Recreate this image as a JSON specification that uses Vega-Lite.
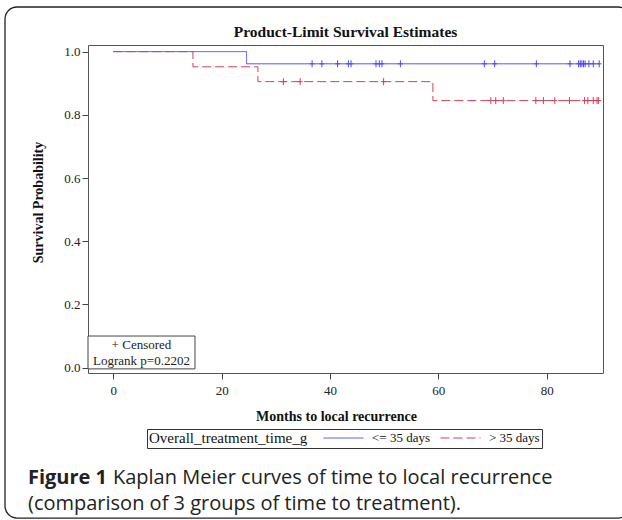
{
  "$schema": "https://vega.github.io/schema/vega-lite/v6.json",
  "width": 515,
  "height": 328,
  "autosize": {"type": "none"},
  "padding": {"left": 88, "top": 45, "right": 19, "bottom": 147},
  "background": "white",
  "config": {
    "view": {"stroke": "#555", "strokeWidth": 1, "fill": "white"},
    "font": "Liberation Serif",
    "axis": {"grid": false, "domain": false, "tickColor": "#444", "tickSize": 6, "labelColor": "#222", "labelFont": "Liberation Serif", "labelFontSize": 13, "titleFont": "Liberation Serif", "titleFontSize": 14, "titleFontWeight": "bold", "titleColor": "#111"},
    "legend": {"orient": "none", "legendX": 59, "legendY": 384, "direction": "horizontal", "titleOrient": "left", "titleAnchor": "middle", "titleBaseline": "middle", "symbolType": "stroke", "symbolSize": 1600, "symbolStrokeWidth": 1, "clipHeight": 14, "labelFont": "Liberation Serif", "labelFontSize": 13, "labelColor": "#111", "titleFont": "Liberation Serif", "titleFontSize": 15, "titleFontWeight": "normal", "titleColor": "#111", "strokeColor": "#333", "fillColor": "white", "padding": 2, "columnPadding": 10, "labelOffset": 8, "titlePadding": 15}
  },
  "datasets": {
    "curves": [
      {"group": "<= 35 days", "month": 0, "surv": 1},
      {"group": "<= 35 days", "month": 24.6, "surv": 0.9615},
      {"group": "<= 35 days", "month": 89.7, "surv": 0.9615},
      {"group": "> 35 days", "month": 0, "surv": 1},
      {"group": "> 35 days", "month": 14.7, "surv": 0.952},
      {"group": "> 35 days", "month": 26.7, "surv": 0.905},
      {"group": "> 35 days", "month": 59.0, "surv": 0.845},
      {"group": "> 35 days", "month": 89.6, "surv": 0.845}
    ],
    "censored": [
      {"group": "<= 35 days", "month": 36.7, "surv": 0.9615},
      {"group": "<= 35 days", "month": 38.5, "surv": 0.9615},
      {"group": "<= 35 days", "month": 41.4, "surv": 0.9615},
      {"group": "<= 35 days", "month": 43.4, "surv": 0.9615},
      {"group": "<= 35 days", "month": 43.9, "surv": 0.9615},
      {"group": "<= 35 days", "month": 48.5, "surv": 0.9615},
      {"group": "<= 35 days", "month": 49.1, "surv": 0.9615},
      {"group": "<= 35 days", "month": 49.6, "surv": 0.9615},
      {"group": "<= 35 days", "month": 53.0, "surv": 0.9615},
      {"group": "<= 35 days", "month": 68.5, "surv": 0.9615},
      {"group": "<= 35 days", "month": 70.4, "surv": 0.9615},
      {"group": "<= 35 days", "month": 78.1, "surv": 0.9615},
      {"group": "<= 35 days", "month": 84.3, "surv": 0.9615},
      {"group": "<= 35 days", "month": 85.9, "surv": 0.9615},
      {"group": "<= 35 days", "month": 86.2, "surv": 0.9615},
      {"group": "<= 35 days", "month": 86.5, "surv": 0.9615},
      {"group": "<= 35 days", "month": 86.8, "surv": 0.9615},
      {"group": "<= 35 days", "month": 87.1, "surv": 0.9615},
      {"group": "<= 35 days", "month": 87.8, "surv": 0.9615},
      {"group": "<= 35 days", "month": 88.6, "surv": 0.9615},
      {"group": "<= 35 days", "month": 89.7, "surv": 0.9615},
      {"group": "> 35 days", "month": 31.4, "surv": 0.905},
      {"group": "> 35 days", "month": 34.5, "surv": 0.905},
      {"group": "> 35 days", "month": 49.9, "surv": 0.905},
      {"group": "> 35 days", "month": 69.7, "surv": 0.845},
      {"group": "> 35 days", "month": 70.6, "surv": 0.845},
      {"group": "> 35 days", "month": 72.0, "surv": 0.845},
      {"group": "> 35 days", "month": 78.0, "surv": 0.845},
      {"group": "> 35 days", "month": 79.4, "surv": 0.845},
      {"group": "> 35 days", "month": 81.5, "surv": 0.845},
      {"group": "> 35 days", "month": 84.2, "surv": 0.845},
      {"group": "> 35 days", "month": 87.0, "surv": 0.845},
      {"group": "> 35 days", "month": 87.6, "surv": 0.845},
      {"group": "> 35 days", "month": 88.6, "surv": 0.845},
      {"group": "> 35 days", "month": 89.3, "surv": 0.845},
      {"group": "> 35 days", "month": 89.6, "surv": 0.845}
    ]
  },
  "layer": [
    {
      "data": {"name": "curves"},
      "mark": {"type": "line", "interpolate": "step-after", "strokeWidth": 1},
      "encoding": {
        "x": {"field": "month", "type": "quantitative", "scale": {"domain": [-4.67, 90.4], "nice": false, "zero": false}, "axis": {"title": "Months to local recurrence", "values": [0, 20, 40, 60, 80], "labelPadding": 5, "titlePadding": 12, "titleX": 248}},
        "y": {"field": "surv", "type": "quantitative", "scale": {"domain": [-0.017, 1.021], "nice": false, "zero": false}, "axis": {"title": "Survival Probability", "values": [0, 0.2, 0.4, 0.6, 0.8, 1.0], "format": ".1f", "labelPadding": 2, "titlePadding": 18, "titleY": 157}},
        "color": {"field": "group", "type": "nominal", "scale": {"domain": ["<= 35 days", "> 35 days"], "range": ["#4a4af5", "#d0405a"]}, "legend": {"title": "Overall_treatment_time_g"}},
        "strokeDash": {"field": "group", "type": "nominal", "scale": {"domain": ["<= 35 days", "> 35 days"], "range": [[1, 0], [9, 4]]}, "legend": {"title": "Overall_treatment_time_g"}},
        "order": {"field": "month"}
      }
    },
    {
      "data": {"name": "censored"},
      "mark": {"type": "point", "shape": "M-0.7,0H0.7M0,-1V1", "filled": false, "size": 49, "strokeWidth": 1, "opacity": 1},
      "encoding": {
        "x": {"field": "month", "type": "quantitative"},
        "y": {"field": "surv", "type": "quantitative"},
        "stroke": {"field": "group", "type": "nominal", "scale": {"domain": ["<= 35 days", "> 35 days"], "range": ["#4a4af5", "#d0405a"]}, "legend": null}
      }
    },
    {
      "data": {"values": [{}]},
      "mark": {"type": "rect", "fill": "white", "stroke": "#444", "strokeWidth": 1},
      "encoding": {
        "x": {"datum": -4.67, "type": "quantitative"},
        "x2": {"datum": 15.08},
        "y": {"datum": 0.1, "type": "quantitative"},
        "y2": {"datum": -0.004}
      }
    },
    {
      "data": {"values": [{}]},
      "mark": {"type": "text", "text": "+ Censored", "font": "Liberation Serif", "fontSize": 13, "color": "#222", "align": "center", "baseline": "middle"},
      "encoding": {
        "x": {"datum": 5.2, "type": "quantitative"},
        "y": {"datum": 0.072, "type": "quantitative"}
      }
    },
    {
      "data": {"values": [{}]},
      "mark": {"type": "text", "text": "Logrank p=0.2202", "font": "Liberation Serif", "fontSize": 13, "color": "#222", "align": "center", "baseline": "middle"},
      "encoding": {
        "x": {"datum": 5.2, "type": "quantitative"},
        "y": {"datum": 0.02, "type": "quantitative"}
      }
    },
    {
      "data": {"values": [{}]},
      "mark": {"type": "text", "text": "Product-Limit Survival Estimates", "font": "Liberation Serif", "fontSize": 15.5, "fontWeight": "bold", "color": "#111", "align": "center", "baseline": "alphabetic"},
      "encoding": {
        "x": {"datum": 42.87, "type": "quantitative"},
        "y": {"datum": 1.0463, "type": "quantitative"}
      }
    },
    {
      "data": {"values": [{}]},
      "mark": {"type": "rect", "fill": null, "fillOpacity": 0, "stroke": "#222", "strokeWidth": 1.3, "cornerRadius": 12},
      "encoding": {
        "x": {"datum": -19.99, "type": "quantitative"},
        "x2": {"datum": 95.4},
        "y": {"datum": 1.1413, "type": "quantitative"},
        "y2": {"datum": -0.476}
      }
    },
    {
      "data": {"values": [{}]},
      "mark": {"type": "text", "text": "Figure 1", "font": "Open Sans", "fontSize": 20, "fontWeight": "bold", "color": "#222", "align": "left", "baseline": "alphabetic"},
      "encoding": {
        "x": {"datum": -15.75, "type": "quantitative"},
        "y": {"datum": -0.368, "type": "quantitative"}
      }
    },
    {
      "data": {"values": [{}]},
      "mark": {"type": "text", "text": "Kaplan Meier curves of time to local recurrence", "font": "Open Sans", "fontSize": 20, "color": "#222", "align": "left", "baseline": "alphabetic"},
      "encoding": {
        "x": {"datum": -0.06, "type": "quantitative"},
        "y": {"datum": -0.368, "type": "quantitative"}
      }
    },
    {
      "data": {"values": [{}]},
      "mark": {"type": "text", "text": "(comparison of 3 groups of time to treatment).", "font": "Open Sans", "fontSize": 20, "color": "#222", "align": "left", "baseline": "alphabetic"},
      "encoding": {
        "x": {"datum": -15.75, "type": "quantitative"},
        "y": {"datum": -0.45, "type": "quantitative"}
      }
    }
  ]
}
